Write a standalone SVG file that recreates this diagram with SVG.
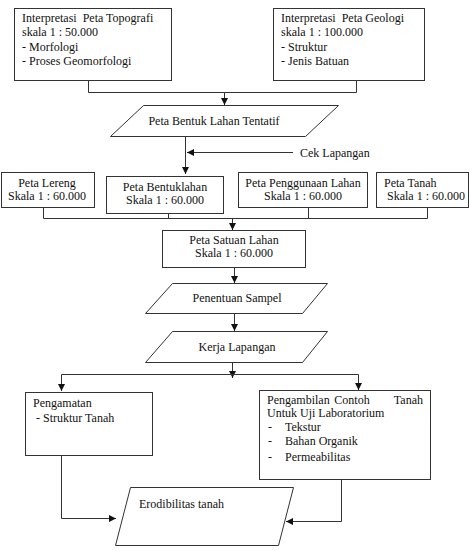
<svg xmlns="http://www.w3.org/2000/svg" width="469" height="551" viewBox="0 0 469 551">
<defs>
<marker id="ah" markerWidth="8" markerHeight="8" refX="7" refY="4" orient="auto" markerUnits="userSpaceOnUse">
<path d="M0,0.5 L7,4 L0,7.5 Z" fill="#111"/>
</marker>
<style>
.b{fill:#fff;stroke:#333;stroke-width:1}
.t{font-family:'Liberation Serif',serif;font-size:12px;fill:#111}
.m{text-anchor:middle}
.c{fill:none;stroke:#333;stroke-width:1}
.a{fill:none;stroke:#333;stroke-width:1;marker-end:url(#ah)}
</style>
</defs>
<rect width="469" height="551" fill="#fff"/>
<g id="connectors">
<path class="c" d="M88.5,80 V92.5 H356.5 V80"/>
<path class="a" d="M224.5,92 V105"/>
<path class="a" d="M185.5,136 V174"/>
<path class="a" d="M293,152.5 H187"/>
<path class="c" d="M43.5,207 V218.5 H427.5 V207 M168.5,213 V218.5 M308.5,207 V218.5"/>
<path class="a" d="M232.5,218 V230"/>
<path class="a" d="M234.5,267 V283"/>
<path class="a" d="M234.5,313 V331"/>
<path class="a" d="M232.5,362 V378"/>
<path class="a" d="M61.5,374.5 H358.5 V390"/>
<path class="a" d="M61.5,374.5 V391"/>
<path class="a" d="M61.5,455 V518.5 H116"/>
<path class="a" d="M341.5,479 V521.5 H286"/>
</g>
<g id="n1">
<rect class="b" x="14.5" y="8.5" width="157" height="72"/>
<text class="t" x="22" y="22" xml:space="preserve">Interpretasi  Peta Topografi</text>
<text class="t" x="22" y="36">skala 1 : 50.000</text>
<text class="t" x="22" y="51">- Morfologi</text>
<text class="t" x="22" y="65">- Proses Geomorfologi</text>
</g>
<g id="n2">
<rect class="b" x="273.5" y="8.5" width="151" height="72"/>
<text class="t" x="281" y="22" xml:space="preserve">Interpretasi  Peta Geologi</text>
<text class="t" x="281" y="36">skala 1 : 100.000</text>
<text class="t" x="281" y="51">- Struktur</text>
<text class="t" x="281" y="65">- Jenis Batuan</text>
</g>
<g id="n3">
<polygon class="b" points="143.5,105.5 338.5,105.5 305.5,136.5 110.5,136.5"/>
<text class="t m" x="214" y="125">Peta Bentuk Lahan Tentatif</text>
</g>
<g id="n4">
<text class="t" x="300" y="157">Cek Lapangan</text>
</g>
<g id="n5">
<rect class="b" x="1.5" y="172.5" width="93" height="35"/>
<text class="t m" x="47" y="187">Peta Lereng</text>
<text class="t m" x="47" y="200">Skala 1 : 60.000</text>
</g>
<g id="n6">
<rect class="b" x="106.5" y="176.5" width="117" height="37"/>
<text class="t m" x="165" y="191">Peta Bentuklahan</text>
<text class="t m" x="165" y="204">Skala 1 : 60.000</text>
</g>
<g id="n7">
<rect class="b" x="238.5" y="172.5" width="129" height="35"/>
<text class="t m" x="303" y="187">Peta Penggunaan Lahan</text>
<text class="t m" x="303" y="200">Skala 1 : 60.000</text>
</g>
<g id="n8">
<rect class="b" x="376.5" y="172.5" width="92" height="35"/>
<text class="t" x="384" y="187">Peta Tanah</text>
<text class="t" x="387" y="200">Skala 1 : 60.000</text>
</g>
<g id="n9">
<rect class="b" x="162.5" y="230.5" width="143" height="37"/>
<text class="t m" x="234" y="244">Peta Satuan Lahan</text>
<text class="t m" x="234" y="257">Skala 1 : 60.000</text>
</g>
<g id="n10">
<polygon class="b" points="172.5,283.5 327.5,283.5 302.5,313.5 145.5,313.5"/>
<text class="t m" x="237" y="302">Penentuan Sampel</text>
</g>
<g id="n11">
<polygon class="b" points="172.5,331.5 327.5,331.5 302.5,362.5 145.5,362.5"/>
<text class="t m" x="237" y="351">Kerja Lapangan</text>
</g>
<g id="n12">
<rect class="b" x="25.5" y="392.5" width="127" height="63"/>
<text class="t" x="33" y="407">Pengamatan</text>
<text class="t" x="36" y="422">- Struktur Tanah</text>
</g>
<g id="n13">
<rect class="b" x="259.5" y="390.5" width="171" height="89"/>
<text class="t" x="267" y="404">Pengambilan</text>
<text class="t m" x="352" y="404">Contoh</text>
<text class="t" x="423" y="404" text-anchor="end">Tanah</text>
<text class="t" x="267" y="417">Untuk Uji Laboratorium</text>
<text class="t" x="268" y="431">-</text><text class="t" x="285" y="431">Tekstur</text>
<text class="t" x="268" y="445">-</text><text class="t" x="285" y="445">Bahan Organik</text>
<text class="t" x="268" y="461">-</text><text class="t" x="285" y="461">Permeabilitas</text>
</g>
<g id="n14">
<polygon class="b" points="130.5,487.5 293.5,487.5 278.5,545.5 115.5,545.5"/>
<text class="t" x="139" y="508">Erodibilitas tanah</text>
</g>
</svg>
